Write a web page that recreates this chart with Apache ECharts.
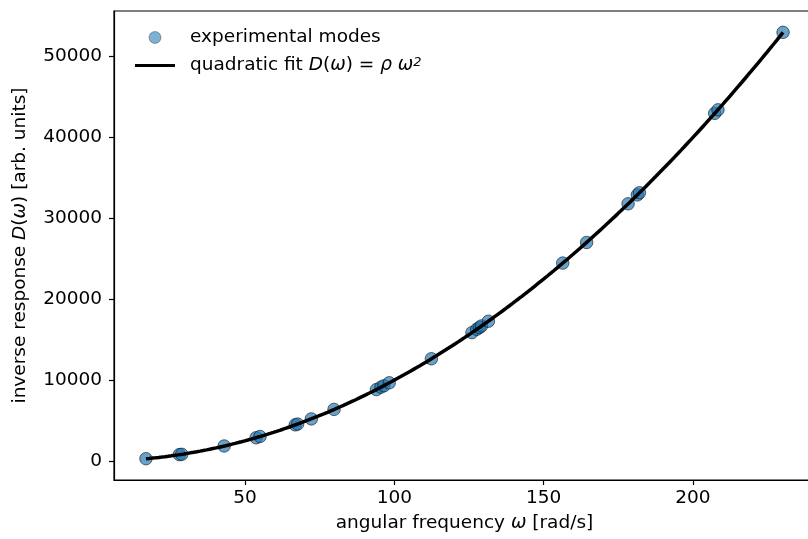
<!DOCTYPE html>
<html><head><meta charset="utf-8">
<script src="https://cdn.jsdelivr.net/npm/echarts@6/dist/echarts.min.js"></script>
<style>html,body{margin:0;padding:0;background:#fff}#c{width:808px;height:539px}</style>
</head><body><div id="c"></div>
<script>
// measured modes: angular frequency (rad/s) and inverse response (arb. units)
const omega = [16.8, 28.0, 28.8, 43.0, 53.7, 55.0, 66.8, 67.6, 72.2, 79.8, 94.0, 95.5, 96.5, 98.3,
  112.4, 126.0, 127.6, 128.5, 129.2, 131.5, 156.4, 164.4, 178.3, 181.4, 182.1, 207.3, 208.4, 230.2];
const response = [285, 790, 825, 1855, 2875, 3030, 4470, 4565, 5205, 6380, 8830, 9130, 9300, 9670,
  12640, 15870, 16290, 16500, 16700, 17280, 24470, 27020, 31800, 32900, 33170, 42980, 43420, 53000];
const xTicks = [50, 100, 150, 200];
const yTicks = [0, 10000, 20000, 30000, 40000, 50000];

// least-squares fit D = rho * w^2 from the data
let num = 0, den = 0;
for (let i = 0; i < omega.length; i++) { num += response[i] * omega[i] ** 2; den += omega[i] ** 4; }
const rho = num / den;
const fitW = [];
const wMin = Math.min(...omega), wMax = Math.max(...omega);
for (let k = 0; k <= 200; k++) fitW.push(wMin + (wMax - wMin) * k / 200);
const fitData = fitW.map(w => [w, rho * w * w]);
const scatterData = omega.map((w, i) => [w, response[i]]);

const FONT = 'DejaVu Sans';
const FS = 18.5;
const lineIcon = 'path://M0,0L0.01,0L0.01,0.01Z M0,4.4L40,4.4L40,7.6L0,7.6Z M39.99,12L40,12L40,11.99Z';
const chart = echarts.init(document.getElementById('c'), null, {renderer: 'canvas'});
chart.setOption({
  animation: false,
  textStyle: {fontFamily: FONT, color: '#000'},
  grid: {left: 114, top: 11, right: -7, bottom: 59, containLabel: false, outerBoundsMode: 'none',
    show: true, borderColor: '#000', borderWidth: 1.2, backgroundColor: 'transparent'},
  legend: {
    left: 130, top: 23, orient: 'vertical', itemWidth: 40, itemHeight: 12, itemGap: 9,
    textStyle: {fontFamily: FONT, fontSize: FS, color: '#000', padding: [0, 0, 0, 10],
      rich: {
        i: {fontFamily: FONT, fontStyle: 'italic', fontSize: FS},
        sup: {fontFamily: FONT, fontStyle: 'italic', fontSize: 13, verticalAlign: 'top'},
        n: {fontFamily: FONT, fontSize: FS}
      }},
    formatter: function (name) {
      if (name === 'fit') return '{n|quadratic fit }{i|D}{n|(}{i|ω}{n|) = }{i|ρ ω}{sup|2}';
      return name;
    },
    data: [
      {name: 'experimental modes', icon: 'circle', itemStyle: {color: 'rgba(31,119,180,0.72)', borderColor: 'rgba(0,0,0,0.5)', borderWidth: 0.8}},
      {name: 'fit', icon: lineIcon, itemStyle: {color: '#000', borderWidth: 0}}
    ]
  },
  xAxis: {
    type: 'value', min: 6.1, max: 240.9,
    name: 'angular frequency {i|ω} [rad/s]', nameLocation: 'middle', nameGap: 34,
    nameTextStyle: {fontFamily: FONT, fontSize: FS, color: '#000',
      rich: {i: {fontFamily: FONT, fontStyle: 'italic', fontSize: FS}}},
    axisLine: {show: true, onZero: false, lineStyle: {color: '#000', width: 1.2}},
    axisTick: {show: true, inside: false, length: 5, lineStyle: {color: '#000', width: 1.2}, customValues: xTicks},
    axisLabel: {fontFamily: FONT, fontSize: FS, color: '#000', margin: 9, customValues: xTicks,
      formatter: v => String(v)},
    splitLine: {show: false}
  },
  yAxis: {
    type: 'value', min: -2350, max: 55640,
    name: 'inverse response {i|D}({i|ω}) [arb. units]', nameLocation: 'middle', nameGap: 84, nameRotate: 90,
    nameTextStyle: {fontFamily: FONT, fontSize: FS, color: '#000',
      rich: {i: {fontFamily: FONT, fontStyle: 'italic', fontSize: FS}}},
    axisLine: {show: true, onZero: false, lineStyle: {color: '#000', width: 1.2}},
    axisTick: {show: true, inside: false, length: 5, lineStyle: {color: '#000', width: 1.2}, customValues: yTicks},
    axisLabel: {fontFamily: FONT, fontSize: FS, color: '#000', margin: 12, customValues: yTicks,
      formatter: v => String(v)},
    splitLine: {show: false}
  },
  series: [
    {name: 'experimental modes', type: 'scatter', data: scatterData, symbol: 'circle', symbolSize: 12.5, z: 2,
      itemStyle: {color: 'rgba(31,119,180,0.85)', borderColor: 'rgba(0,0,0,0.7)', borderWidth: 1}},
    {name: 'fit', type: 'line', data: fitData, showSymbol: false, symbol: 'none', smooth: false, z: 3,
      lineStyle: {color: '#000', width: 3.5}, itemStyle: {color: '#000'}}
  ]
});
</script></body></html>
